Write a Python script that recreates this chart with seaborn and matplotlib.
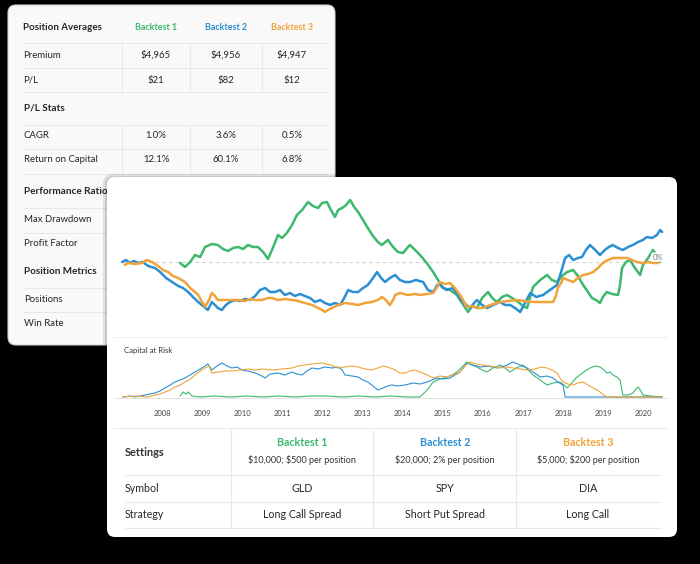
import matplotlib
matplotlib.use("Agg")
import matplotlib.pyplot as plt
from matplotlib.patches import FancyBboxPatch
import pandas as pd
import seaborn as sns

# ---- data ----
backtests = ["Backtest 1", "Backtest 2", "Backtest 3"]
colors = ["#3cb96d", "#2b8fd4", "#f0a33a"]
years = list(range(2008, 2021))

# P/L curve (% of start), Backtest 1 (GLD)
bt1_x = [2008.45, 2008.57, 2008.70, 2008.82, 2008.95, 2009.07, 2009.24, 2009.39, 2009.52, 2009.64,
         2009.77, 2009.89, 2010.02, 2010.14, 2010.27, 2010.39, 2010.52, 2010.64, 2010.74, 2010.89,
         2010.99, 2011.11, 2011.24, 2011.36, 2011.49, 2011.64, 2011.76, 2011.89, 2011.99, 2012.11,
         2012.21, 2012.31, 2012.39, 2012.49, 2012.59, 2012.69, 2012.79, 2012.89, 2013.01, 2013.13,
         2013.26, 2013.38, 2013.48, 2013.63, 2013.76, 2013.88, 2014.01, 2014.11, 2014.18, 2014.31,
         2014.43, 2014.58, 2014.76, 2014.88, 2015.00, 2015.18, 2015.35, 2015.48, 2015.63, 2015.73,
         2015.85, 2015.98, 2016.13, 2016.23, 2016.35, 2016.48, 2016.60, 2016.73, 2016.88, 2017.00,
         2017.10, 2017.18, 2017.25, 2017.43, 2017.60, 2017.72, 2017.85, 2017.97, 2018.10, 2018.25,
         2018.37, 2018.50, 2018.62, 2018.72, 2018.82, 2018.92, 2018.99, 2019.09, 2019.22, 2019.37,
         2019.42, 2019.47, 2019.57, 2019.67, 2019.79, 2019.92, 2019.99, 2020.12, 2020.24, 2020.34,
         2020.42]
bt1_pl = [-1, -5, 0, 7, 5, 15, 18, 17, 13, 11,
          14, 15, 13, 17, 15, 15, 10, 3, 12, 27,
          24, 29, 37, 47, 52, 60, 56, 54, 59, 60,
          52, 45, 52, 54, 57, 62, 55, 50, 42, 34,
          26, 20, 17, 22, 15, 10, 9, 14, 17, 12,
          7, 0, -10, -18, -26, -28, -33, -41, -50, -44,
          -46, -36, -30, -36, -40, -35, -33, -36, -40, -44,
          -46, -35, -25, -18, -13, -18, -20, -14, -10, -8,
          -14, -23, -30, -36, -38, -41, -35, -30, -32, -33,
          -23, -6, 0, 2, -6, -13, -3, 4, 12, 7,
          0]

# Backtest 2 (SPY)
bt2_x = [2007.00, 2007.10, 2007.20, 2007.30, 2007.40, 2007.52, 2007.65, 2007.82, 2007.95, 2008.10,
         2008.25, 2008.40, 2008.52, 2008.65, 2008.77, 2008.90, 2009.02, 2009.14, 2009.24, 2009.32,
         2009.39, 2009.49, 2009.59, 2009.69, 2009.82, 2009.94, 2010.07, 2010.19, 2010.32, 2010.44,
         2010.57, 2010.69, 2010.82, 2010.94, 2011.06, 2011.19, 2011.31, 2011.44, 2011.56, 2011.69,
         2011.81, 2011.94, 2012.06, 2012.19, 2012.31, 2012.44, 2012.54, 2012.64, 2012.76, 2012.89,
         2013.01, 2013.13, 2013.26, 2013.36, 2013.46, 2013.56, 2013.68, 2013.81, 2013.93, 2014.06,
         2014.18, 2014.33, 2014.51, 2014.63, 2014.76, 2014.86, 2014.93, 2015.09, 2015.25, 2015.38,
         2015.50, 2015.68, 2015.78, 2015.85, 2015.98, 2016.10, 2016.25, 2016.43, 2016.55, 2016.68,
         2016.80, 2016.93, 2017.05, 2017.18, 2017.33, 2017.50, 2017.67, 2017.85, 2017.95, 2018.05,
         2018.15, 2018.25, 2018.37, 2018.47, 2018.57, 2018.67, 2018.80, 2018.92, 2019.04, 2019.14,
         2019.24, 2019.37, 2019.49, 2019.62, 2019.74, 2019.87, 2019.99, 2020.09, 2020.22, 2020.34,
         2020.42, 2020.47]
bt2_pl = [0, 2, -1, 1, -1, 0, -4, -6, -10, -16,
          -20, -24, -26, -30, -35, -40, -44, -48, -40, -43,
          -46, -48, -43, -40, -38, -39, -37, -38, -34, -28,
          -26, -30, -30, -28, -33, -31, -34, -32, -34, -36,
          -40, -38, -41, -43, -41, -43, -36, -28, -30, -30,
          -26, -23, -16, -10, -16, -20, -16, -13, -18, -20,
          -20, -18, -20, -28, -30, -23, -23, -28, -26, -33,
          -40, -46, -41, -38, -43, -46, -43, -40, -43, -43,
          -46, -50, -41, -31, -35, -33, -28, -23, -10, 4,
          7, 2, 4, 5, 12, 17, 12, 7, 12, 15,
          17, 14, 12, 15, 17, 20, 22, 25, 24, 27,
          32, 30]

# Backtest 3 (DIA)
bt3_x = [2007.07, 2007.15, 2007.32, 2007.50, 2007.62, 2007.75, 2007.90, 2008.02, 2008.15, 2008.27,
         2008.40, 2008.57, 2008.70, 2008.82, 2008.90, 2009.00, 2009.07, 2009.17, 2009.24, 2009.32,
         2009.39, 2009.57, 2009.74, 2009.89, 2010.07, 2010.19, 2010.32, 2010.49, 2010.64, 2010.74,
         2010.89, 2011.06, 2011.24, 2011.39, 2011.56, 2011.74, 2011.89, 2011.99, 2012.06, 2012.14,
         2012.24, 2012.39, 2012.56, 2012.74, 2012.89, 2013.06, 2013.23, 2013.38, 2013.48, 2013.58,
         2013.68, 2013.76, 2013.81, 2013.93, 2014.13, 2014.31, 2014.43, 2014.61, 2014.76, 2014.86,
         2014.93, 2015.05, 2015.18, 2015.30, 2015.43, 2015.53, 2015.60, 2015.73, 2015.85, 2016.00,
         2016.18, 2016.43, 2016.63, 2016.85, 2017.05, 2017.25, 2017.50, 2017.75, 2017.82, 2017.87,
         2017.95, 2018.00, 2018.12, 2018.25, 2018.37, 2018.50, 2018.62, 2018.75, 2018.87, 2018.99,
         2019.12, 2019.24, 2019.42, 2019.59, 2019.72, 2019.84, 2019.99, 2020.12, 2020.24, 2020.37]
bt3_pl = [-3, -1, -2, -1, 2, 0, -4, -8, -10, -14,
          -16, -20, -26, -30, -33, -40, -45, -38, -31, -34,
          -38, -38, -38, -38, -39, -37, -38, -38, -36, -36,
          -38, -37, -38, -39, -41, -43, -46, -48, -50, -48,
          -46, -43, -41, -42, -43, -41, -40, -38, -35, -38,
          -43, -38, -33, -31, -33, -32, -33, -32, -31, -25,
          -20, -22, -21, -26, -33, -40, -45, -44, -46, -46,
          -43, -40, -39, -38, -39, -40, -40, -40, -34, -26,
          -21, -16, -18, -20, -16, -13, -12, -10, -6, -1,
          2, 4, 4, 4, 2, 0, -1, 0, -1, -1]

# Capital at risk (%)
car1_x = [2008.45, 2008.52, 2008.60, 2008.65, 2008.75, 2008.95, 2009.30, 2009.70, 2010.10, 2010.50,
          2010.90, 2011.30, 2011.70, 2012.10, 2012.50, 2012.90, 2013.30, 2013.70, 2014.10, 2014.43,
          2014.61, 2014.76, 2014.93, 2015.10, 2015.23, 2015.35, 2015.48, 2015.60, 2015.73, 2015.85,
          2015.98, 2016.10, 2016.25, 2016.43, 2016.55, 2016.68, 2016.83, 2017.00, 2017.13, 2017.25,
          2017.43, 2017.60, 2017.75, 2017.92, 2018.05, 2018.10, 2018.22, 2018.32, 2018.42, 2018.55,
          2018.67, 2018.80, 2018.92, 2019.02, 2019.09, 2019.17, 2019.24, 2019.34, 2019.42, 2019.49,
          2019.62, 2019.74, 2019.82, 2019.87, 2019.94, 2019.99, 2020.17, 2020.47]
car1 = [1, 5, 3, 5, 1, 0, 1, 0, 1, 0,
        1, 0, 1, 1, 0, 1, 0, 1, 0, 0,
        7, 15, 18, 20, 22, 25, 30, 35, 32, 30,
        27, 25, 29, 32, 29, 25, 29, 32, 27, 22,
        17, 12, 14, 15, 11, 9, 14, 19, 22, 26,
        29, 31, 30, 27, 24, 25, 22, 20, 17, 2,
        2, 4, 8, 10, 6, 2, 1, 0]

car2_x = [2007.02, 2007.20, 2007.32, 2007.45, 2007.57, 2007.70, 2007.82, 2007.95, 2008.07, 2008.20,
          2008.32, 2008.45, 2008.57, 2008.70, 2008.82, 2008.95, 2009.07, 2009.14, 2009.24, 2009.37,
          2009.49, 2009.62, 2009.74, 2009.87, 2009.99, 2010.14, 2010.32, 2010.44, 2010.57, 2010.69,
          2010.89, 2011.06, 2011.24, 2011.36, 2011.49, 2011.61, 2011.74, 2011.89, 2012.06, 2012.24,
          2012.39, 2012.49, 2012.56, 2012.74, 2012.89, 2013.01, 2013.13, 2013.26, 2013.38, 2013.51,
          2013.63, 2013.73, 2013.88, 2014.06, 2014.26, 2014.43, 2014.61, 2014.73, 2014.86, 2015.00,
          2015.18, 2015.30, 2015.43, 2015.53, 2015.60, 2015.75, 2015.93, 2016.13, 2016.35, 2016.55,
          2016.75, 2016.93, 2017.10, 2017.25, 2017.43, 2017.60, 2017.75, 2017.87, 2018.00, 2018.05,
          2018.92, 2020.47]
car2 = [0, 1, 0, 1, 2, 3, 4, 6, 9, 12,
        15, 17, 19, 22, 25, 28, 31, 33, 27, 31,
        34, 31, 29, 30, 27, 26, 24, 22, 19, 23,
        24, 22, 25, 23, 22, 26, 29, 28, 30, 29,
        30, 27, 22, 21, 20, 17, 15, 11, 7, 9,
        11, 12, 11, 12, 14, 13, 15, 17, 19, 18,
        19, 22, 25, 30, 34, 32, 30, 31, 29, 31,
        35, 32, 29, 25, 20, 21, 19, 15, 12, 0,
        0, 0]

car3_x = [2007.02, 2007.32, 2007.65, 2007.82, 2007.95, 2008.07, 2008.20, 2008.32, 2008.45, 2008.57,
          2008.70, 2008.82, 2008.95, 2009.07, 2009.17, 2009.24, 2009.39, 2009.57, 2009.74, 2009.94,
          2010.14, 2010.32, 2010.49, 2010.74, 2010.99, 2011.24, 2011.39, 2011.56, 2011.74, 2011.99,
          2012.19, 2012.39, 2012.56, 2012.74, 2012.89, 2013.06, 2013.23, 2013.38, 2013.51, 2013.63,
          2013.81, 2013.93, 2014.06, 2014.18, 2014.31, 2014.43, 2014.61, 2014.76, 2014.93, 2015.10,
          2015.25, 2015.43, 2015.55, 2015.68, 2015.83, 2016.00, 2016.18, 2016.43, 2016.60, 2016.75,
          2016.93, 2017.10, 2017.30, 2017.45, 2017.60, 2017.72, 2017.85, 2017.92, 2018.00, 2018.12,
          2018.25, 2018.37, 2018.50, 2018.62, 2018.75, 2018.85, 2018.92, 2019.02, 2019.09, 2020.47]
car3 = [0, 1, 0, 2, 3, 5, 7, 10, 12, 15,
        18, 22, 26, 29, 31, 24, 25, 26, 26, 27,
        28, 27, 28, 27, 28, 29, 31, 32, 33, 34,
        32, 29, 30, 31, 30, 28, 27, 29, 31, 30,
        27, 24, 24, 26, 27, 25, 22, 19, 21, 20,
        22, 25, 31, 35, 33, 32, 31, 29, 30, 29,
        28, 27, 28, 30, 29, 27, 24, 19, 15, 13,
        12, 14, 15, 12, 9, 7, 5, 2, 0, 0]

# tables
pos_rows = ["Premium", "P/L"]
pos_vals = [["$4,965", "$4,956", "$4,947"], ["$21", "$82", "$12"]]
pl_rows = ["CAGR", "Return on Capital"]
pl_vals = [["1.0%", "3.6%", "0.5%"], ["12.1%", "60.1%", "6.8%"]]
perf_rows = ["Max Drawdown", "Profit Factor"]
metric_rows = ["Positions", "Win Rate"]
settings = ["$10,000; $500 per position", "$20,000; 2% per position", "$5,000; $200 per position"]
symbols = ["GLD", "SPY", "DIA"]
strategies = ["Long Call Spread", "Short Put Spread", "Long Call"]


def long_frame(parts):
    frames = [pd.DataFrame({"year": x, "value": v, "backtest": name}) for name, x, v in parts]
    return pd.concat(frames, ignore_index=True)


pl_df = long_frame(zip(backtests, [bt1_x, bt2_x, bt3_x], [bt1_pl, bt2_pl, bt3_pl]))
car_df = long_frame(zip(backtests, [car1_x, car2_x, car3_x], [car1, car2, car3]))

sns.set_theme(style="white")
plt.rcParams["font.family"] = ["Lato", "DejaVu Sans"]

fig = plt.figure(figsize=(7, 5.64), dpi=100, facecolor="black")
bg = fig.add_axes([0, 0, 1, 1])
bg.set_xlim(0, 700)
bg.set_ylim(564, 0)
bg.axis("off")

dark = "#262626"
line_c = "#e8e8e8"


def card(x0, y0, x1, y1, z, fc="white", ec="none", alpha=1.0, r=8):
    bg.add_patch(FancyBboxPatch((x0, y0), x1 - x0, y1 - y0,
                                boxstyle=f"round,pad=0,rounding_size={r}",
                                fc=fc, ec=ec, lw=0.8, alpha=alpha, zorder=z))


def hline(y, x0, x1, z, c=line_c):
    bg.plot([x0, x1], [y, y], color=c, lw=0.8, zorder=z, solid_capstyle="butt")


def txt(x, y, s, z, size=6.9, weight="normal", color=dark, ha="left"):
    bg.text(x, y, s, fontsize=size, fontweight=weight, color=color, ha=ha, va="center",
            zorder=z, parse_math=False)


# ---- back card ----
card(8, 5, 335, 345, 1, fc="#f9f9f9", ec="#d0d0d0")
col_x = [156, 226, 292]
txt(23, 27, "Position Averages", 2, size=7, weight="bold")
for cx, name, c in zip(col_x, backtests, colors):
    txt(cx, 27, name, 2, size=6.4, weight="bold", color=c, ha="center")
for y in [43, 68, 92, 125, 149, 174, 208, 233, 288, 312]:
    hline(y, 23, 327, 2)
for x in [122, 190, 262]:
    bg.plot([x, x], [43, 92], color=line_c, lw=0.8, zorder=2)
    bg.plot([x, x], [125, 174], color=line_c, lw=0.8, zorder=2)
for y, lab, vals in zip([55, 80], pos_rows, pos_vals):
    txt(23, y, lab, 2)
    for cx, v in zip(col_x, vals):
        txt(cx, y, v, 2, ha="center")
txt(24, 108, "P/L Stats", 2, size=7.2, weight="bold")
for y, lab, vals in zip([136, 160], pl_rows, pl_vals):
    txt(24, y, lab, 2)
    for cx, v in zip(col_x, vals):
        txt(cx, y, v, 2, ha="center")
txt(24, 192, "Performance Ratios", 2, size=7.2, weight="bold")
for y, lab in zip([220, 244], perf_rows):
    txt(24, y, lab, 2)
txt(24, 271, "Position Metrics", 2, size=7.2, weight="bold")
for y, lab in zip([300, 324], metric_rows):
    txt(24, y, lab, 2)

# ---- front card ----
card(103, 174, 681, 541, 3, fc="#000000", alpha=0.10, r=10)
card(105, 176, 679, 539, 3, fc="#000000", alpha=0.10, r=9)
card(107, 177, 677, 537, 4, fc="white")
hline(337, 113, 668, 5, c="#efefef")
hline(428, 113, 668, 5, c="#ececec")
for y in [475, 502, 528]:
    hline(y, 125, 661, 5)
for x in [231, 373, 516]:
    bg.plot([x, x], [430, 528], color=line_c, lw=0.8, zorder=5)
txt(124, 351, "Capital at Risk", 5, size=5.6, color="#333333")
set_x = [302, 445, 588]
txt(125, 453, "Settings", 5, size=7.9, weight="bold", color="#333333")
txt(125, 489, "Symbol", 5, size=7.7)
txt(125, 515, "Strategy", 5, size=7.7)
for cx, name, c, s, sym, strat in zip(set_x, backtests, colors, settings, symbols, strategies):
    txt(cx, 443, name, 5, size=7.7, weight="bold", color=c, ha="center")
    txt(cx, 460, s, 5, size=6.5, color="#333333", ha="center")
    txt(cx, 489, sym, 5, size=7.7, ha="center")
    txt(cx, 515, strat, 5, size=7.7, ha="center")


# ---- charts ----
def px_axes(l, t, r, b):
    a = fig.add_axes([l / 700, 1 - b / 564, (r - l) / 700, (b - t) / 564])
    a.set_facecolor("none")
    return a


xlim = (2006.825, 2020.616)
ax = px_axes(115, 185, 668, 332)
ax.hlines(0, 2007, 2020.47, colors="#cfcfcf", linestyles=(0, (3, 3)), lw=0.8)
sns.lineplot(data=pl_df, x="year", y="value", hue="backtest", palette=colors,
             estimator=None, sort=False, lw=1.8, legend=False, ax=ax)
ax.text(2020.36, 5, "0%", fontsize=5.5, color="#777777", ha="center", va="center",
        bbox=dict(boxstyle="round,pad=0.15", fc="white", ec="none"))
ax.set_xlim(*xlim)
ax.set_ylim(-70, 77)
ax.axis("off")

ax2 = px_axes(115, 355, 668, 401)
ax2.axhline(-1, color="#e2e2e2", lw=0.8)
sns.lineplot(data=car_df, x="year", y="value", hue="backtest", palette=colors,
             estimator=None, sort=False, lw=0.8, legend=False, ax=ax2)
ax2.set_xlim(*xlim)
ax2.set_ylim(-4, 42)
ax2.set_xticks(years)
ax2.set_xticklabels([str(y) for y in years], fontsize=5.5, color="#444444")
ax2.tick_params(axis="x", length=0, pad=6.5)
ax2.set_yticks([])
ax2.set_xlabel("")
ax2.set_ylabel("")
for sp in ax2.spines.values():
    sp.set_visible(False)

fig.savefig("out.png", dpi=100, facecolor=fig.get_facecolor())
